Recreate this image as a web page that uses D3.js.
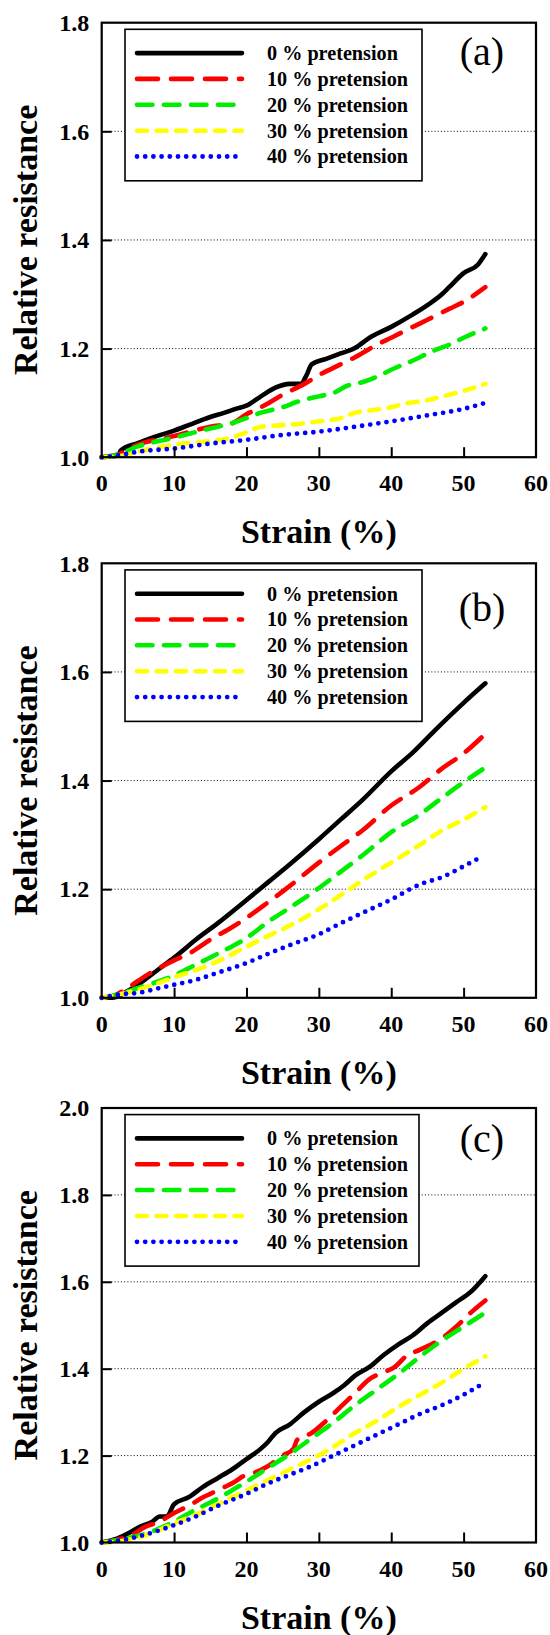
<!DOCTYPE html>
<html><head><meta charset="utf-8">
<script src="https://cdn.jsdelivr.net/npm/d3@7"></script>
<style>body{margin:0;background:#fff}svg{display:block}</style>
</head><body>
<svg id="c" width="550" height="1635"></svg>
<script>
// ---------- data ----------
const seriesNames = ["0 % pretension","10 % pretension","20 % pretension","30 % pretension","40 % pretension"];
const xTicks = [0,10,20,30,40,50,60];
const yTicksAB = [1.0,1.2,1.4,1.6,1.8];
const yTicksC = [1.0,1.2,1.4,1.6,1.8,2.0];
const panelLabels = ["(a)","(b)","(c)"];

// panel (a): [strain %, relative resistance]
const a0 = [[0,1.0],[2.3,1.003],[2.6,1.012],[5,1.026],[7,1.036],[10,1.049],[12,1.059],[15,1.074],[17,1.082],[18.5,1.089],[20,1.095],[22,1.112],[24,1.128],[26,1.135],[27.5,1.135],[28.3,1.151],[29,1.171],[31,1.181],[33,1.191],[35,1.201],[37,1.22],[40,1.24],[43,1.263],[45,1.28],[47,1.3],[48,1.313],[50,1.339],[52,1.355],[53,1.374]];
const a1 = [[0,1.0],[2,1.004],[5,1.023],[10,1.039],[15,1.056],[18,1.0625],[20,1.079],[22,1.092],[25,1.115],[28,1.135],[30,1.151],[33,1.171],[35,1.184],[38,1.207],[40,1.22],[43,1.24],[45,1.253],[48,1.273],[50,1.286],[53,1.313]];
const a2 = [[0,1.0],[2,1.004],[5,1.02],[10,1.036],[15,1.053],[18,1.0625],[20,1.072],[22,1.082],[25,1.092],[27,1.102],[30,1.112],[32,1.118],[34,1.132],[36,1.138],[38,1.148],[40,1.161],[43,1.178],[46,1.197],[48,1.207],[50,1.22],[53,1.237]];
const a3 = [[0,1.0],[3,1.003],[5,1.01],[10,1.023],[15,1.03],[18,1.036],[20,1.046],[22,1.056],[25,1.059],[28,1.0625],[30,1.066],[33,1.072],[35,1.082],[37,1.086],[40,1.092],[42,1.099],[45,1.105],[48,1.115],[50,1.122],[53,1.135]];
const a4 = [[0,1.0],[3,1.005],[5,1.01],[10,1.016],[15,1.025],[20,1.032],[25,1.041],[30,1.047],[35,1.056],[40,1.066],[45,1.077],[50,1.089],[53,1.1]];

// panel (b)
const b0 = [[0,1.0],[1.5,1.0],[3,1.008],[5,1.024],[8,1.054],[10,1.074],[13,1.107],[16,1.137],[20,1.18],[23,1.213],[26,1.246],[30,1.292],[33,1.328],[36,1.364],[40,1.417],[43,1.452],[46,1.492],[50,1.543],[53,1.579]];
const b1 = [[0,1.0],[1.5,1.003],[3,1.013],[5,1.031],[7,1.048],[10,1.069],[12,1.081],[15,1.107],[18,1.13],[20,1.147],[23,1.176],[26,1.206],[30,1.249],[33,1.279],[36,1.308],[40,1.354],[44,1.389],[47,1.422],[50,1.45],[53,1.486]];
const b2 = [[0,1.0],[3,1.009],[5,1.018],[8,1.031],[10,1.041],[13,1.061],[16,1.081],[20,1.11],[23,1.14],[26,1.166],[30,1.202],[33,1.232],[36,1.262],[40,1.305],[44,1.338],[47,1.368],[50,1.397],[53,1.424]];
const b3 = [[0,1.0],[3,1.008],[5,1.015],[8,1.028],[10,1.038],[13,1.051],[16,1.067],[20,1.094],[23,1.114],[26,1.133],[30,1.163],[33,1.189],[36,1.216],[40,1.249],[44,1.282],[47,1.308],[50,1.328],[53,1.351]];
const b4 = [[0,1.0],[3,1.007],[5,1.009],[8,1.018],[10,1.024],[13,1.033],[16,1.046],[20,1.064],[23,1.081],[26,1.097],[30,1.117],[33,1.137],[36,1.156],[40,1.181],[44,1.209],[47,1.222],[50,1.242],[52.5,1.26]];

// panel (c)
const c0 = [[0,1.0],[2,1.008],[4,1.024],[5,1.034],[7,1.048],[8,1.06],[9,1.06],[10,1.088],[12,1.104],[14,1.128],[16,1.148],[18,1.168],[20,1.192],[22,1.216],[23,1.232],[24,1.252],[26,1.272],[28,1.3],[30,1.324],[32,1.344],[33.5,1.362],[35,1.384],[37,1.404],[39,1.432],[41,1.456],[43,1.477],[45,1.505],[47,1.529],[49,1.553],[51,1.577],[53,1.613]];
const c1 = [[0,1.0],[2,1.006],[4,1.016],[6,1.036],[8,1.048],[10,1.068],[12,1.084],[14,1.104],[15,1.112],[17,1.128],[18,1.136],[20,1.156],[21,1.16],[23,1.176],[25,1.2],[26.5,1.216],[27,1.236],[29,1.252],[31,1.28],[33,1.312],[35,1.344],[37,1.376],[39,1.392],[40.5,1.404],[42,1.428],[44,1.444],[46,1.46],[47.5,1.476],[49,1.497],[51,1.529],[53,1.557]];
const c2 = [[0,1.0],[3,1.008],[6,1.02],[10,1.048],[13,1.076],[15,1.092],[18,1.12],[20,1.14],[23,1.172],[26,1.204],[29,1.24],[32,1.276],[35,1.316],[38,1.352],[41,1.388],[44,1.428],[47,1.465],[50,1.497],[53,1.529]];
const c3 = [[0,1.0],[3,1.004],[6,1.016],[10,1.044],[13,1.064],[16,1.088],[20,1.12],[23,1.144],[26,1.168],[29,1.192],[32,1.22],[35,1.252],[38,1.28],[41,1.312],[44,1.34],[47,1.368],[50,1.4],[53,1.428]];
const c4 = [[0,1.0],[3,1.006],[6,1.018],[10,1.04],[13,1.06],[16,1.084],[20,1.112],[23,1.136],[26,1.156],[29,1.176],[32,1.2],[35,1.224],[38,1.248],[41,1.272],[44,1.296],[47,1.316],[50,1.34],[52.5,1.364]];

// ---------- styles ----------
const colors = ["#000000","#ff0000","#00ee00","#ffff00","#0000ff"];
const dashes = [null,"21,13","15.5,11.5","10,9.5","0,8.2"];
const widths = [4.6,4.6,4.6,4.6,4.8];

const svg = d3.select("#c");
const L = 101.7, W = 434.3, H = 434.5;
const panels = [
  {top:22.7, ymax:1.8, ticks:yTicksAB, data:[a0,a1,a2,a3,a4], label:panelLabels[0], labDy:42, legW:297},
  {top:563.3, ymax:1.8, ticks:yTicksAB, data:[b0,b1,b2,b3,b4], label:panelLabels[1], labDy:58, legW:297},
  {top:1108, ymax:2.0, ticks:yTicksC, data:[c0,c1,c2,c3,c4], label:panelLabels[2], labDy:44, legW:294}
];
const serif = "'Liberation Serif','Times New Roman',serif";

panels.forEach(p => {
  const x = d3.scaleLinear().domain([0,60]).range([L, L+W]);
  const y = d3.scaleLinear().domain([1.0, p.ymax]).range([p.top+H, p.top]);
  const g = svg.append("g");

  g.selectAll(".grid").data(p.ticks.filter(t => t>1.0 && t<p.ymax)).enter()
    .append("line")
    .attr("x1", L).attr("x2", L+W)
    .attr("y1", d=>y(d)).attr("y2", d=>y(d))
    .attr("stroke","#000").attr("stroke-width",1).attr("stroke-dasharray","1,2.2");

  const line = d3.line().x(d=>x(d[0])).y(d=>y(d[1])).curve(d3.curveMonotoneX);
  p.data.forEach((s,i) => {
    g.append("path").datum(s).attr("d", line)
      .attr("fill","none").attr("stroke",colors[i]).attr("stroke-width",widths[i])
      .attr("stroke-linecap","round").attr("stroke-linejoin","round")
      .attr("stroke-dasharray", dashes[i]);
  });

  const xAxis = d3.axisBottom(x).tickValues(xTicks.slice(1,-1)).tickSize(-10).tickFormat("");
  g.append("g").attr("transform",`translate(0,${p.top+H})`).call(xAxis)
    .call(s=>s.select(".domain").remove())
    .selectAll("line").attr("stroke","#000").attr("stroke-width",2);
  const yAxis = d3.axisLeft(y).tickValues(p.ticks.filter(t => t>1.0 && t<p.ymax)).tickSize(-10).tickFormat("");
  g.append("g").attr("transform",`translate(${L},0)`).call(yAxis)
    .call(s=>s.select(".domain").remove())
    .selectAll("line").attr("stroke","#000").attr("stroke-width",2);

  g.append("rect").attr("x",L).attr("y",p.top).attr("width",W).attr("height",H)
    .attr("fill","none").attr("stroke","#000").attr("stroke-width",2.2);

  g.selectAll(".xl").data(xTicks).enter().append("text")
    .attr("x", d=>x(d)).attr("y", p.top+H+34)
    .attr("text-anchor","middle").attr("font-family",serif).attr("font-weight","bold")
    .attr("font-size",24).text(d=>d);
  g.selectAll(".yl").data(p.ticks).enter().append("text")
    .attr("x", L-12.5).attr("y", d=>y(d)+8.3)
    .attr("text-anchor","end").attr("font-family",serif).attr("font-weight","bold")
    .attr("font-size",24).text(d=>d.toFixed(1));

  g.append("text").attr("x", L+W/2).attr("y", p.top+H+86)
    .attr("text-anchor","middle").attr("font-family",serif).attr("font-weight","bold")
    .attr("font-size",34).text("Strain (%)");
  g.append("text").attr("transform",`translate(36.5,${p.top+H/2}) rotate(-90)`)
    .attr("text-anchor","middle").attr("font-family",serif).attr("font-weight","bold")
    .attr("font-size",34).text("Relative resistance");

  const lg = g.append("g").attr("transform",`translate(125,${p.top+6.6})`);
  lg.append("rect").attr("width",p.legW).attr("height",151.5)
    .attr("fill","#fff").attr("stroke","#000").attr("stroke-width",1.6);
  const rowY = [23.8,49.6,75.4,101.4,127.2];
  seriesNames.forEach((nm,i) => {
    lg.append("line").attr("x1",12).attr("x2",117).attr("y1",rowY[i]).attr("y2",rowY[i])
      .attr("stroke",colors[i]).attr("stroke-width",widths[i]).attr("stroke-linecap","round")
      .attr("stroke-dasharray",dashes[i]);
    lg.append("text").attr("x", 142).attr("y", rowY[i]+7)
      .attr("font-family",serif).attr("font-weight","bold").attr("font-size",20.2).text(nm);
  });

  g.append("text").attr("x",482).attr("y",p.top+p.labDy)
    .attr("text-anchor","middle").attr("font-family",serif).attr("font-size",40).text(p.label);
});
</script>
</body></html>
